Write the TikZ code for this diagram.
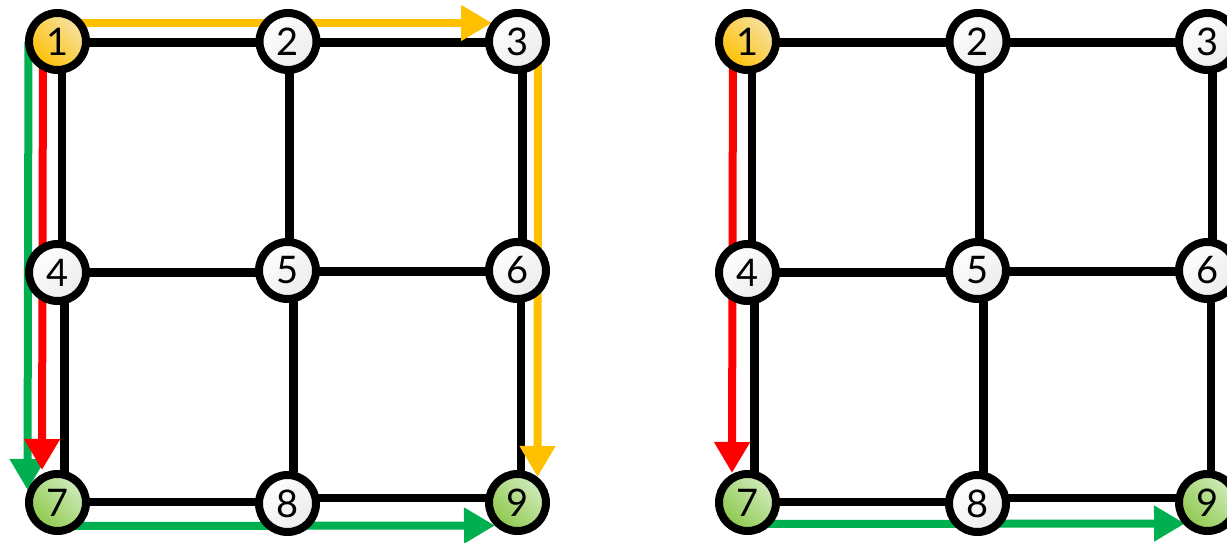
\documentclass[tikz,border=0pt]{standalone}
\usepackage{fontspec}
\setmainfont{Lato}
\usetikzlibrary{arrows.meta,backgrounds}

\definecolor{pathorange}{HTML}{FFC000}
\definecolor{pathred}{HTML}{FF0000}
\definecolor{pathgreen}{HTML}{00B050}
\definecolor{startlight}{HTML}{F6E2A6}
\definecolor{goaldark}{HTML}{8CC84B}
\definecolor{goallight}{HTML}{D2EBBE}
\definecolor{plaingray}{HTML}{EBEBEB}

\tikzset{
  vertex/.style={circle, draw=black, line width=8pt, minimum size=57pt,
    inner sep=0pt, font=\fontsize{38}{38}\selectfont,
    top color=white, bottom color=plaingray, shading angle=45},
  startvertex/.style={vertex, top color=startlight, bottom color=pathorange,
    shading angle=-45},
  goalvertex/.style={vertex, top color=goallight, bottom color=goaldark,
    shading angle=-45},
  edge/.style={draw=black, line width=8.5pt},
  route/.style={line width=8pt, -{Triangle[length=31pt,width=34pt]}},
}

% one 3x3 grid graph: vertices, then the grid lines behind them
\newcommand\gridgraph{%
  \node[startvertex] (1) at (57.5,500.5) {1};
  \node[vertex]      (2) at (288,500.5)  {2};
  \node[vertex]      (3) at (517.5,500.5) {3};
  \node[vertex]      (4) at (57.5,269.5) {4};
  \node[vertex]      (5) at (287.5,271.5) {5};
  \node[vertex]      (6) at (517.5,271.5) {6};
  \node[goalvertex]  (7) at (57.5,39.5)  {7};
  \node[vertex]      (8) at (287.5,38.5) {8};
  \node[goalvertex]  (9) at (517.5,39.5) {9};
  \begin{scope}[on background layer]
    \draw[edge] ([yshift=-1pt]1.center) -- ([yshift=-1pt]2.center);
    \draw[edge] ([yshift=-1pt]2.center) -- ([yshift=-1pt]3.center);
    \draw[edge] (4.center) -- ([yshift=-2pt]5.center);
    \draw[edge] ([yshift=-1pt]5.center) -- ([yshift=-1pt]6.center);
    \draw[edge] ([yshift=0.5pt]7.center) -- ([yshift=1.5pt]8.center);
    \draw[edge] ([yshift=5.5pt]8.center) -- ([yshift=4.5pt]9.center);
    \draw[edge] ([xshift=4.5pt]1.center) -- ([xshift=4.5pt]4.center);
    \draw[edge] ([xshift=7pt]4.center) -- ([xshift=7pt]7.center);
    \draw[edge] ([xshift=1.5pt]2.center) -- ([xshift=2pt]5.center);
    \draw[edge] ([xshift=6pt]5.center) -- ([xshift=6pt]8.center);
    \draw[edge] ([xshift=5pt]3.center) -- ([xshift=5pt]6.center);
    \draw[edge] ([xshift=3.5pt]6.center) -- ([xshift=3.5pt]9.center);
  \end{scope}%
}

\begin{document}
\begin{tikzpicture}[x=1pt, y=1pt]
  \useasboundingbox (0,0) rectangle (1227,542);

  \begin{scope}[name prefix=l-]
    \gridgraph
  \end{scope}
  \begin{scope}[xshift=690pt, name prefix=r-]
    \gridgraph
  \end{scope}

  % routes found from 1 to the goals, drawn under the vertices
  \begin{scope}[on background layer]
    \draw[route, pathorange] ([yshift=18.5pt]l-1.center)
      -- ([xshift=-25.5pt, yshift=18.5pt]l-3.center);
    \draw[route, pathorange] ([xshift=20.5pt]l-3.center)
      -- ([xshift=20pt, yshift=25.5pt]l-9.center);
    \draw[route, pathgreen] ([xshift=-29pt]l-1.center)
      -- ([xshift=-30pt, yshift=12.5pt]l-7.center);
    \draw[route, pathred] ([xshift=-14.5pt]l-1.center)
      -- ([xshift=-15.5pt, yshift=32.5pt]l-7.center);
    \draw[route, pathgreen] ([yshift=-23.5pt]l-7.center)
      -- ([xshift=-22.5pt, yshift=-23pt]l-9.center);

    \draw[route, pathred] ([xshift=-14.5pt]r-1.center)
      -- ([xshift=-15.5pt, yshift=29.5pt]r-7.center);
    \draw[route, pathgreen] ([yshift=-21.5pt]r-7.center)
      -- ([xshift=-22.5pt, yshift=-21pt]r-9.center);
  \end{scope}
\end{tikzpicture}
\end{document}
